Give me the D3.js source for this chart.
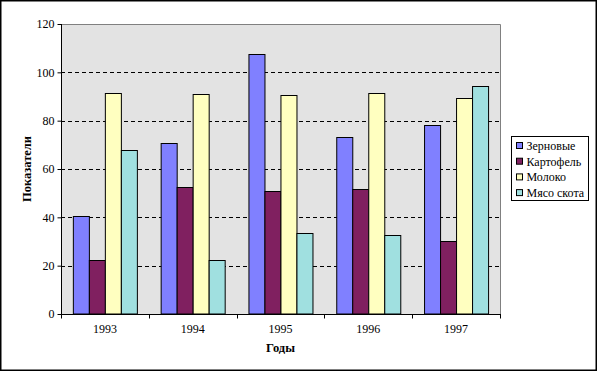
<!DOCTYPE html>
<html>
<head>
<meta charset="utf-8">
<script src="https://cdn.jsdelivr.net/npm/d3@7"></script>
<style>
  body { margin: 0; background: #fff; }
</style>
</head>
<body>
<div id="chart"></div>
<script>
const years = ['1993', '1994', '1995', '1996', '1997'];
const seriesNames = ['Зерновые', 'Картофель', 'Молоко', 'Мясо скота'];
const colors = ['#8080ff', '#802060', '#ffffc0', '#a0e0e0'];
const zernovye = [40.4, 70.8, 107.5, 73.4, 78.2];
const kartofel = [22.5, 52.7, 51, 51.7, 30.4];
const moloko = [91.4, 91, 90.6, 91.4, 89.4];
const myaso = [67.9, 22.5, 33.7, 32.5, 94.3];
const yTicks = [0, 20, 40, 60, 80, 100, 120];

const values = [zernovye, kartofel, moloko, myaso];

const W = 598, H = 372;
const pLeft = 61, pRight = 500, pTop = 24, pBottom = 314;
const serif = '"Liberation Serif", "Times New Roman", serif';

const svg = d3.select('#chart').append('svg')
  .attr('width', W)
  .attr('height', H)
  .style('font-family', serif);

// outer frame
svg.append('rect')
  .attr('x', 0.75).attr('y', 0.75)
  .attr('width', 595.5).attr('height', 369.5)
  .attr('fill', '#fff')
  .attr('stroke', '#000')
  .attr('stroke-width', 1.5);

const x = d3.scaleBand().domain(years).range([pLeft, pRight]).paddingInner(0.27).paddingOuter(0.135);
const xs = d3.scaleBand().domain(d3.range(seriesNames.length)).range([0, x.bandwidth()]);
const y = d3.scaleLinear().domain([0, 120]).range([pBottom, pTop]);

// plot area
svg.append('rect')
  .attr('x', pLeft).attr('y', pTop)
  .attr('width', pRight - pLeft).attr('height', pBottom - pTop)
  .attr('fill', '#e3e3e3');

// grid
svg.append('g')
  .selectAll('line')
  .data(yTicks.filter(t => t > 0 && t < 120))
  .enter().append('line')
  .attr('x1', pLeft).attr('x2', pRight)
  .attr('y1', d => Math.round(y(d)) + 0.5)
  .attr('y2', d => Math.round(y(d)) + 0.5)
  .attr('stroke', '#000')
  .attr('stroke-dasharray', '4,3');

// top and right border of plot
svg.append('path')
  .attr('d', `M${pLeft},${pTop + 0.5}H${pRight + 0.5}V${pBottom}`)
  .attr('fill', 'none')
  .attr('stroke', '#808080');

// bars
const groups = svg.append('g')
  .selectAll('g')
  .data(years)
  .enter().append('g')
  .attr('transform', d => `translate(${x(d)},0)`);

groups.selectAll('rect')
  .data((yr, i) => values.map((s, j) => ({ j, v: s[i] })))
  .enter().append('rect')
  .attr('x', d => Math.round(xs(d.j)) + 0.5)
  .attr('width', xs.bandwidth())
  .attr('y', d => Math.round(y(d.v)) + 0.5)
  .attr('height', d => pBottom - Math.round(y(d.v)) - 0.5)
  .attr('fill', d => colors[d.j])
  .attr('stroke', '#000')
  .attr('stroke-width', 1);

// y axis
const yAxis = svg.append('g')
  .attr('transform', `translate(${pLeft + 0.5},0)`)
  .call(d3.axisLeft(y).tickValues(yTicks).tickSize(4).tickPadding(3));
yAxis.attr('font-family', null).attr('font-size', null);
yAxis.selectAll('text').style('font-family', serif).style('font-size', '12px').attr('fill', '#000');
yAxis.selectAll('line, path').attr('stroke', '#000');
yAxis.select('.domain').attr('d', `M0,${pTop}V${pBottom}`);

// x axis with ticks at category boundaries
const xAxisG = svg.append('g').attr('transform', `translate(0,${pBottom + 0.5})`);
xAxisG.append('line')
  .attr('x1', pLeft).attr('x2', pRight + 1)
  .attr('stroke', '#000');
const step = (pRight - pLeft) / years.length;
xAxisG.selectAll('.tk')
  .data(d3.range(years.length + 1))
  .enter().append('line')
  .attr('x1', i => Math.round(pLeft + i * step) + 0.5)
  .attr('x2', i => Math.round(pLeft + i * step) + 0.5)
  .attr('y1', 0).attr('y2', 4)
  .attr('stroke', '#000');
xAxisG.selectAll('text')
  .data(years)
  .enter().append('text')
  .attr('x', d => x(d) + x.bandwidth() / 2)
  .attr('y', 18.5)
  .attr('text-anchor', 'middle')
  .style('font-size', '12px')
  .text(d => d);

// axis titles
svg.append('text')
  .attr('x', (pLeft + pRight) / 2)
  .attr('y', 352)
  .attr('text-anchor', 'middle')
  .style('font-size', '12.5px')
  .attr('font-weight', 'bold')
  .text('Годы');

svg.append('text')
  .attr('transform', `translate(31,${(pTop + pBottom) / 2}) rotate(-90)`)
  .attr('text-anchor', 'middle')
  .style('font-size', '12.5px')
  .attr('font-weight', 'bold')
  .text('Показатели');

// legend
const lg = svg.append('g').attr('transform', 'translate(511.5,136.5)');
lg.append('rect')
  .attr('width', 77).attr('height', 64)
  .attr('fill', '#fff')
  .attr('stroke', '#000');
const items = lg.selectAll('g')
  .data(seriesNames)
  .enter().append('g')
  .attr('transform', (d, i) => `translate(5,${10 + i * 15.7})`);
items.append('rect')
  .attr('x', 0).attr('y', -4)
  .attr('width', 6).attr('height', 6)
  .attr('fill', (d, i) => colors[i])
  .attr('stroke', '#000');
items.append('text')
  .attr('x', 10).attr('y', 3.5)
  .style('font-size', '12px')
  .text(d => d);
</script>
</body>
</html>
